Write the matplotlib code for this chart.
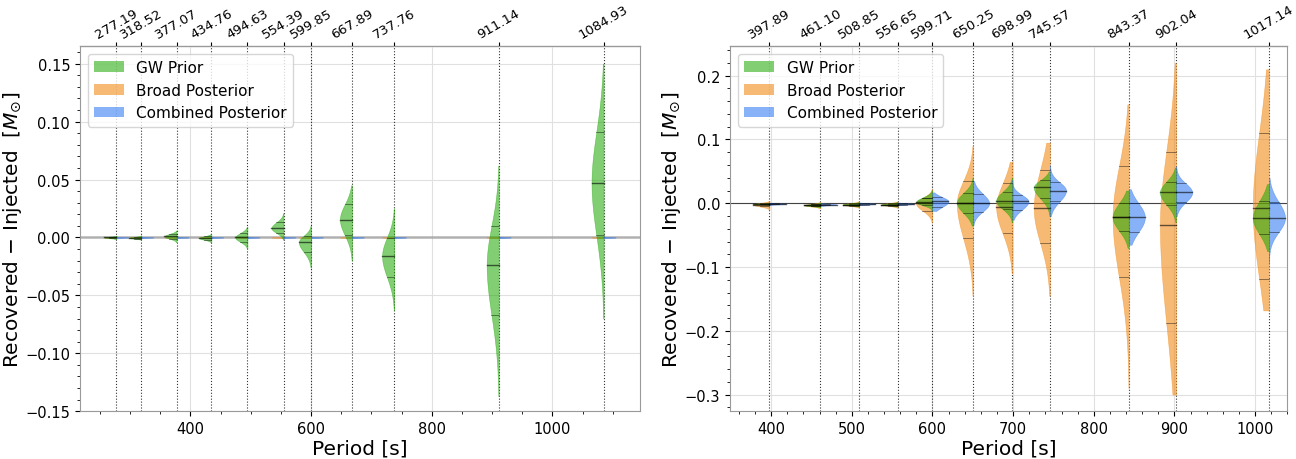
import numpy as np
import matplotlib.pyplot as plt
from matplotlib.patches import Patch
from matplotlib.ticker import MultipleLocator

# median, 16th / 84th percentile lines, and sample extent of each half violin

# ---- left panel: only the GW prior is informative ----
per_l = [277.19, 318.52, 377.07, 434.76, 494.63, 554.39, 599.85, 667.89, 737.76, 911.14, 1084.93]
gw_l_med = [0.0, -0.0003, 0.001, -0.0005, 0.0, 0.008, -0.004, 0.0155, -0.016, -0.024, 0.047]
gw_l_q16 = [-0.0006, -0.0010, -0.001, -0.002, -0.0038, 0.004, -0.0125, 0.002, -0.034, -0.067, 0.002]
gw_l_q84 = [0.0006, 0.0005, 0.003, 0.001, 0.0038, 0.013, 0.0015, 0.0285, -0.0002, 0.010, 0.091]
gw_l_min = [-0.0015, -0.002, -0.004, -0.0045, -0.010, -0.002, -0.026, -0.020, -0.063, -0.137, -0.070]
gw_l_max = [0.0015, 0.002, 0.006, 0.003, 0.0095, 0.021, 0.010, 0.045, 0.025, 0.062, 0.150]
# broad / combined posteriors are flat at zero on this scale
post_l_med = [0.0, 0.0, 0.0, 0.0, 0.0, 0.0, 0.0, 0.0, 0.0, 0.0, 0.0]
post_l_q16 = [-0.0003, -0.0003, -0.0003, -0.0003, -0.0003, -0.0003, -0.0003, -0.0003, -0.0003, -0.0003, -0.0003]
post_l_q84 = [0.0003, 0.0003, 0.0003, 0.0003, 0.0003, 0.0003, 0.0003, 0.0003, 0.0003, 0.0003, 0.0003]
post_l_min = [-0.0008, -0.0008, -0.0008, -0.0008, -0.0008, -0.0008, -0.0008, -0.0008, -0.0008, -0.0008, -0.0008]
post_l_max = [0.0008, 0.0008, 0.0008, 0.0008, 0.0008, 0.0008, 0.0008, 0.0008, 0.0008, 0.0008, 0.0008]

# ---- right panel ----
per_r = [397.89, 461.10, 508.85, 556.65, 599.71, 650.25, 698.99, 745.57, 843.37, 902.04, 1017.14]
br_med = [-0.002, -0.003, -0.002, -0.002, 0.0, 0.0, -0.006, -0.008, -0.022, -0.034, -0.008]
br_q16 = [-0.005, -0.005, -0.004, -0.004, -0.0115, -0.055, -0.047, -0.062, -0.116, -0.188, -0.118]
br_q84 = [0.0003, -0.001, 0.0, 0.0, 0.0085, 0.035, 0.031, 0.052, 0.058, 0.081, 0.110]
br_min = [-0.010, -0.008, -0.007, -0.007, -0.030, -0.145, -0.110, -0.145, -0.290, -0.300, -0.168]
br_max = [0.004, 0.002, 0.003, 0.003, 0.022, 0.090, 0.065, 0.095, 0.155, 0.220, 0.210]

gw_r_med = [-0.001, -0.003, -0.002, -0.002, 0.002, 0.001, 0.004, 0.025, -0.022, 0.017, -0.023]
gw_r_q16 = [-0.0015, -0.0045, -0.0033, -0.0033, -0.003, -0.015, -0.009, 0.008, -0.043, -0.002, -0.048]
gw_r_q84 = [-0.0005, -0.0015, -0.0005, -0.0005, 0.009, 0.016, 0.018, 0.036, 0.0, 0.034, 0.003]
gw_r_min = [-0.003, -0.006, -0.005, -0.005, -0.012, -0.035, -0.030, -0.020, -0.070, -0.030, -0.075]
gw_r_max = [0.001, 0.001, 0.002, 0.002, 0.020, 0.040, 0.040, 0.050, 0.020, 0.056, 0.030]

cb_med = [-0.001, -0.002, -0.001, -0.001, 0.003, 0.0, 0.003, 0.020, -0.022, 0.017, -0.023]
cb_q16 = [-0.0017, -0.003, -0.002, -0.002, -0.006, -0.013, -0.010, 0.003, -0.045, 0.002, -0.045]
cb_q84 = [-0.0003, -0.001, 0.0, 0.0, 0.010, 0.015, 0.013, 0.033, 0.0, 0.031, 0.002]
cb_min = [-0.003, -0.004, -0.003, -0.003, -0.012, -0.035, -0.026, -0.020, -0.065, -0.020, -0.095]
cb_max = [0.001, 0.0, 0.001, 0.001, 0.017, 0.035, 0.037, 0.060, 0.022, 0.058, 0.040]

c_gw = (0.1, 0.65, 0.0)
c_br = (0.95, 0.55, 0.1)
c_cb = (0.15, 0.45, 0.95)
a_gw, a_br, a_cb = 0.55, 0.6, 0.55


def half_violin(ax, x, med, q16, q84, lo, hi, color, side, alpha, width=20, lines=True):
    ys = np.linspace(lo, hi, 400)
    s_lo = max(med - q16, 1e-5)
    s_hi = max(q84 - med, 1e-5)
    s = np.where(ys < med, s_lo, s_hi)
    w = width * np.exp(-0.5 * ((ys - med) / s) ** 2)
    sgn = -1 if side == 'left' else 1
    ax.fill_betweenx(ys, x, x + sgn * w, facecolor=color, alpha=alpha,
                     edgecolor=color, lw=0.4, zorder=3)
    if not lines:
        return
    for q, lw in ((q16, 0.5), (med, 1.0), (q84, 0.5)):
        wq = np.interp(q, ys, w)
        ax.plot([x, x + sgn * wq], [q, q], color='k', lw=lw, alpha=0.6, zorder=4)


def style_axes(ax, periods, xlim, ylim, xminor, yminor):
    ax.set_xlim(xlim)
    ax.set_ylim(ylim)
    for p in periods:
        ax.axvline(p, color='k', ls=':', lw=0.8, alpha=0.8, zorder=2)
    ax.grid(True, color='0.88', lw=0.8, zorder=0)
    ax.set_axisbelow(True)
    ax.xaxis.set_minor_locator(MultipleLocator(xminor))
    ax.yaxis.set_minor_locator(MultipleLocator(yminor))
    ax.tick_params(labelsize=10.5)
    for s in ax.spines.values():
        s.set_color('0.6')
    top = ax.secondary_xaxis('top')
    top.set_ticks(periods)
    top.set_xticklabels(['%.2f' % p for p in periods], rotation=30, fontsize=9.5)
    top.tick_params(length=3, pad=1)
    ax.set_xlabel('Period [s]', fontsize=14.5, labelpad=2)
    ax.set_ylabel(r'Recovered $-$ Injected  [$M_{\odot}$]', fontsize=14.5, labelpad=1)
    ax.legend(handles=[Patch(facecolor=c_gw, alpha=a_gw, edgecolor='none', label='GW Prior'),
                       Patch(facecolor=c_br, alpha=a_br, edgecolor='none', label='Broad Posterior'),
                       Patch(facecolor=c_cb, alpha=a_cb, edgecolor='none', label='Combined Posterior')],
              loc='upper left', fontsize=11)


fig = plt.figure(figsize=(12.96, 4.6), dpi=100)
ax1 = fig.add_axes([0.0617, 0.104, 0.432, 0.793])
ax2 = fig.add_axes([0.5633, 0.104, 0.430, 0.793])

for i, p in enumerate(per_l):
    half_violin(ax1, p, post_l_med[i], post_l_q16[i], post_l_q84[i], post_l_min[i], post_l_max[i], c_br, 'left', a_br, lines=False)
    half_violin(ax1, p, gw_l_med[i], gw_l_q16[i], gw_l_q84[i], gw_l_min[i], gw_l_max[i], c_gw, 'left', a_gw)
    half_violin(ax1, p, post_l_med[i], post_l_q16[i], post_l_q84[i], post_l_min[i], post_l_max[i], c_cb, 'right', a_cb, lines=False)
ax1.axhline(0, color='0.5', lw=2, alpha=0.5, zorder=2)
style_axes(ax1, per_l, (217, 1145), (-0.150, 0.165), 50, 0.01)

for i, p in enumerate(per_r):
    half_violin(ax2, p, br_med[i], br_q16[i], br_q84[i], br_min[i], br_max[i], c_br, 'left', a_br)
    half_violin(ax2, p, gw_r_med[i], gw_r_q16[i], gw_r_q84[i], gw_r_min[i], gw_r_max[i], c_gw, 'left', a_gw)
    half_violin(ax2, p, cb_med[i], cb_q16[i], cb_q84[i], cb_min[i], cb_max[i], c_cb, 'right', a_cb)
ax2.axhline(0, color='k', lw=0.8, alpha=0.7, zorder=2)
style_axes(ax2, per_r, (349, 1040), (-0.326, 0.246), 20, 0.02)

fig.savefig('out.png', dpi=100)
